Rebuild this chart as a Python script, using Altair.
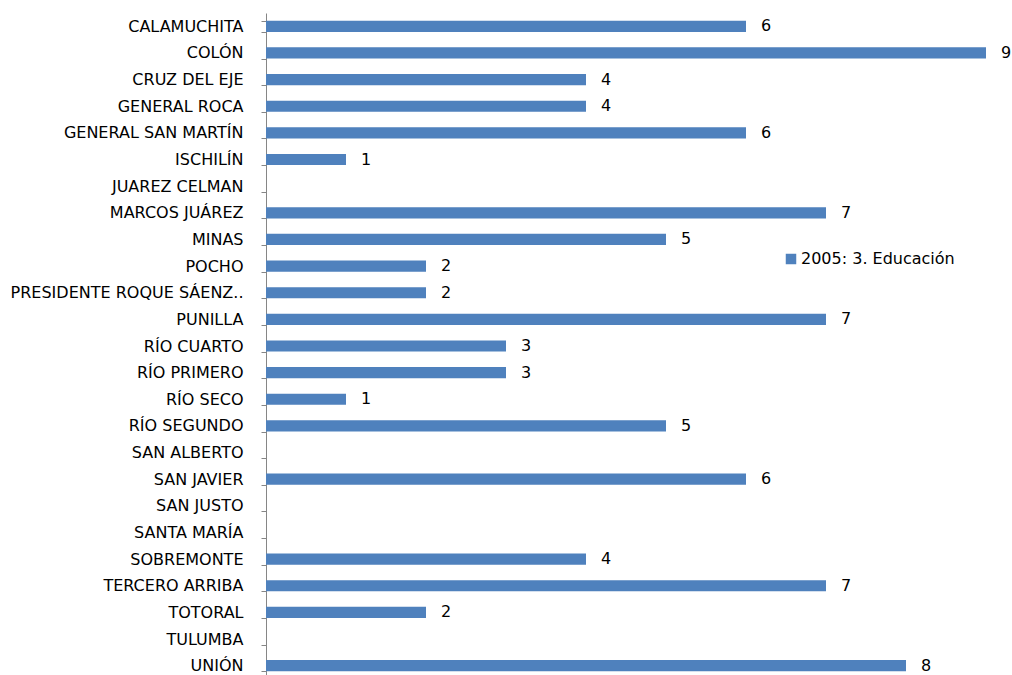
import altair as alt
import pandas as pd

departamentos = [
    "CALAMUCHITA", "COLÓN", "CRUZ DEL EJE", "GENERAL ROCA", "GENERAL SAN MARTÍN",
    "ISCHILÍN", "JUAREZ CELMAN", "MARCOS JUÁREZ", "MINAS", "POCHO",
    "PRESIDENTE ROQUE SÁENZ..", "PUNILLA", "RÍO CUARTO", "RÍO PRIMERO", "RÍO SECO",
    "RÍO SEGUNDO", "SAN ALBERTO", "SAN JAVIER", "SAN JUSTO", "SANTA MARÍA",
    "SOBREMONTE", "TERCERO ARRIBA", "TOTORAL", "TULUMBA", "UNIÓN",
]
valores = [6, 9, 4, 4, 6, 1, None, 7, 5, 2, 2, 7, 3, 3, 1, 5, None, 6, None, None, 4, 7, 2, None, 8]
serie = "2005: 3. Educación"

df = pd.DataFrame({"departamento": departamentos, "valor": valores})
df["serie"] = serie

FONT = "DejaVu Sans"
BLUE = "#4F81BD"

y_enc = alt.Y(
    "departamento:N",
    sort=departamentos,
    scale=alt.Scale(paddingInner=0.58, paddingOuter=0.29),
    axis=alt.Axis(
        title=None,
        tickBand="extent",
        domainColor="#868686",
        tickColor="#868686",
        tickSize=5,
        labelColor="#000000",
        labelFont=FONT,
        labelFontSize=16,
        labelPadding=18,
        labelLimit=300,
        grid=False,
    ),
)
x_enc = alt.X("valor:Q", scale=alt.Scale(domain=[0, 9], nice=False), axis=None)

bars = alt.Chart(df).mark_bar(color=BLUE).encode(
    y=y_enc,
    x=x_enc,
    color=alt.Color(
        "serie:N",
        scale=alt.Scale(range=[BLUE]),
        legend=alt.Legend(
            title=None,
            orient="none",
            legendX=517,
            legendY=238,
            symbolType="square",
            symbolSize=110,
            symbolStrokeWidth=0,
            labelFont=FONT,
            labelFontSize=16,
            labelColor="#000000",
            labelOffset=2,
        ),
    ),
)

labels = alt.Chart(df).mark_text(
    align="left", baseline="middle", dx=15, font=FONT, fontSize=16, color="#000000"
).encode(
    y=alt.Y("departamento:N", sort=departamentos),
    x=alt.X("valor:Q", axis=None),
    text=alt.Text("valor:Q"),
)

chart = (
    alt.layer(bars, labels)
    .properties(
        width=720,
        height=666,
        background="#ffffff",
        autosize=alt.AutoSizeParams(type="none"),
        padding={"left": 266, "top": 13, "right": 26, "bottom": 0},
    )
    .configure_view(stroke="transparent", strokeWidth=0)
)

chart.save("out.html", embed_options={"renderer": "svg", "actions": False})
